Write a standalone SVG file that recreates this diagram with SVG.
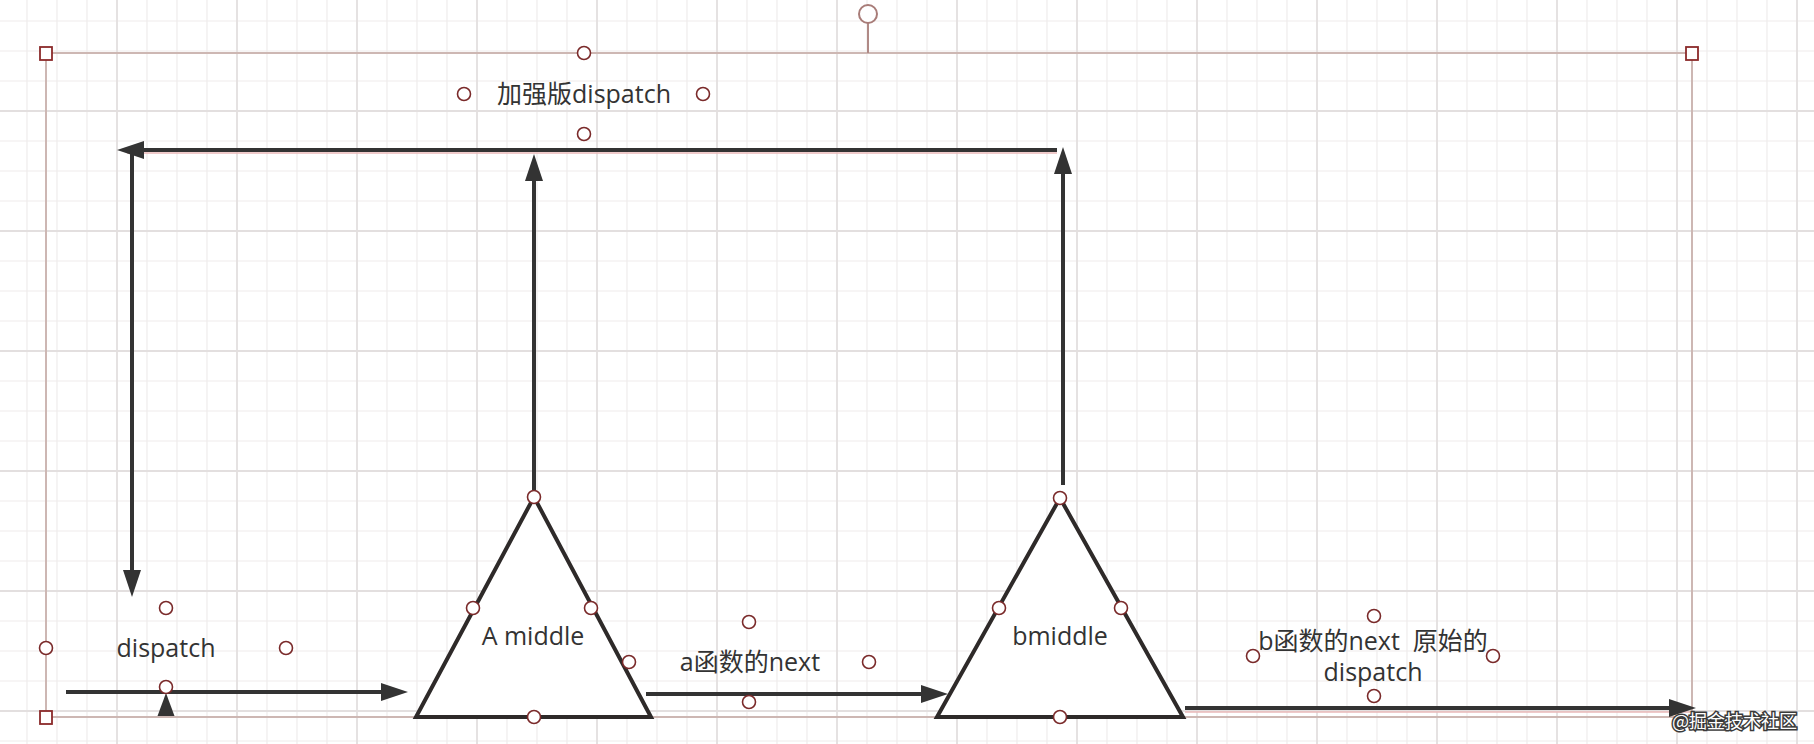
<svg xmlns="http://www.w3.org/2000/svg" width="1814" height="744" viewBox="0 0 1814 744">
<defs>
<pattern id="grid" x="-4" y="-10" width="120" height="120" patternUnits="userSpaceOnUse">
<path d="M31,0V120M61,0V120M91,0V120M0,31H120M0,61H120M0,91H120" stroke="#efecec" stroke-width="1.2" fill="none"/>
<path d="M1,0V120M0,1H120" stroke="#e3dfdf" stroke-width="1.8" fill="none"/>
</pattern>
<marker id="arr" markerUnits="userSpaceOnUse" markerWidth="28" markerHeight="20" refX="17" refY="9" orient="auto" viewBox="0 0 28 20">
<path d="M0,0 L27,9 L0,18 z" fill="#333"/>
</marker>
</defs>
<style>
.conn{stroke:#333;stroke-width:4;fill:none;marker-end:url(#arr)}
.hl{stroke:#eab9b9;stroke-width:1.5;fill:none}
.tri{fill:#fff;stroke:#2e2a29;stroke-width:4;stroke-linejoin:miter}
.lbl{font-family:"Open Sans","Noto Sans CJK SC",sans-serif;font-size:25px;fill:#333;text-anchor:middle;white-space:pre}
.h{fill:#fff;stroke:#7a2a2a;stroke-width:1.6}
.sq{fill:#fff;stroke:#8b2a2a;stroke-width:1.8}
.frame{stroke:#cdb7b3;stroke-width:2;fill:none}
.wm{font-family:"Noto Sans CJK SC",sans-serif;font-size:18px;fill:#fff;stroke:#3a3a3a;stroke-width:3;paint-order:stroke;text-anchor:end}
</style>
<rect width="1814" height="744" fill="#fff"/>
<rect width="1814" height="744" fill="url(#grid)"/>

<g id="frame">
<path class="frame" d="M46,53H1692M46,53V717M1692,53V717M46,717H1692"/>
<line x1="868" y1="23" x2="868" y2="53" stroke="#b08a86" stroke-width="2"/>
<circle cx="868" cy="14" r="9" fill="#fff" stroke="#a87c78" stroke-width="2"/>
</g>

<g id="connectors">
<line class="hl" x1="127" y1="153" x2="1057" y2="153"/>
<line class="hl" x1="1185" y1="712" x2="1690" y2="712"/>
<path class="conn" d="M1057,150H127"/>
<path class="conn" d="M132,152V587"/>
<path class="conn" d="M534,490V164"/>
<path class="conn" d="M1063,485V157"/>
<path class="conn" d="M66,692H398"/>
<path class="conn" d="M646,694H938"/>
<path class="conn" d="M1185,708H1686"/>
<polygon points="166,693 174.5,716 157.5,716" fill="#333"/>
</g>

<g id="node-a-middle">
<polygon class="tri" points="534,497 651,717 416,717"/>
<text class="lbl" x="533" y="645">A middle</text>
</g>

<g id="node-bmiddle">
<polygon class="tri" points="1060,498 1183,717 937,717"/>
<text class="lbl" x="1060" y="645">bmiddle</text>
</g>

<g id="label-enhanced">
<text class="lbl" x="584" y="103">加强版dispatch</text>
</g>
<g id="label-dispatch">
<text class="lbl" x="166" y="657">dispatch</text>
</g>
<g id="label-anext">
<text class="lbl" x="750" y="671">a函数的next</text>
</g>
<g id="label-bnext">
<text class="lbl" x="1373" y="650">b函数的next  原始的</text>
<text class="lbl" x="1373" y="681">dispatch</text>
</g>

<g id="handles">
<rect class="sq" x="40" y="47" width="12" height="13"/>
<rect class="sq" x="1686" y="47" width="12" height="13"/>
<rect class="sq" x="40" y="711" width="12" height="13"/>
<circle class="h" cx="584" cy="53" r="6.5"/>
<circle class="h" cx="464" cy="94" r="6.5"/>
<circle class="h" cx="703" cy="94" r="6.5"/>
<circle class="h" cx="584" cy="134" r="6.5"/>
<circle class="h" cx="166" cy="608" r="6.5"/>
<circle class="h" cx="46" cy="648" r="6.5"/>
<circle class="h" cx="286" cy="648" r="6.5"/>
<circle class="h" cx="166" cy="687" r="6.5"/>
<circle class="h" cx="534" cy="497" r="6.5"/>
<circle class="h" cx="473" cy="608" r="6.5"/>
<circle class="h" cx="591" cy="608" r="6.5"/>
<circle class="h" cx="534" cy="717" r="6.5"/>
<circle class="h" cx="629" cy="662" r="6.5"/>
<circle class="h" cx="749" cy="622" r="6.5"/>
<circle class="h" cx="869" cy="662" r="6.5"/>
<circle class="h" cx="749" cy="702" r="6.5"/>
<circle class="h" cx="1060" cy="498" r="6.5"/>
<circle class="h" cx="999" cy="608" r="6.5"/>
<circle class="h" cx="1121" cy="608" r="6.5"/>
<circle class="h" cx="1060" cy="717" r="6.5"/>
<circle class="h" cx="1374" cy="616" r="6.5"/>
<circle class="h" cx="1253" cy="656" r="6.5"/>
<circle class="h" cx="1493" cy="656" r="6.5"/>
<circle class="h" cx="1374" cy="696" r="6.5"/>
</g>

<text class="wm" x="1797" y="728">@掘金技术社区</text>
</svg>
